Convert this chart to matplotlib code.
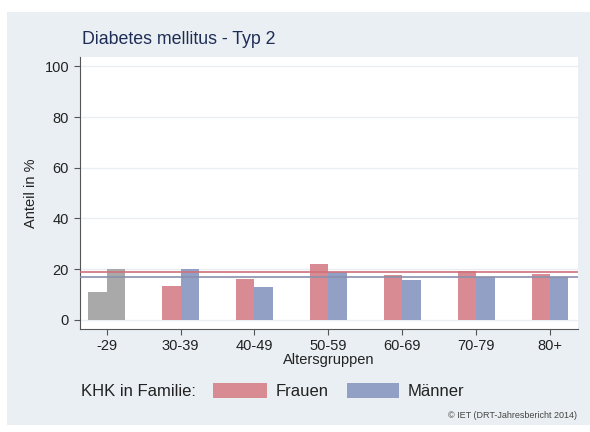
import numpy as np
import matplotlib.pyplot as plt
from matplotlib.patches import Rectangle

plt.rcParams['font.family'] = ['Liberation Sans', 'DejaVu Sans']

gruppen = ["-29", "30-39", "40-49", "50-59", "60-69", "70-79", "80+"]
frauen = [11.0, 13.4, 16.2, 22.1, 17.8, 19.3, 18.2]
maenner = [20.0, 20.0, 12.8, 18.9, 15.9, 16.8, 17.0]
mittel_frauen = 19.0
mittel_maenner = 17.0

rot = "#d98b93"
blau = "#93a0c5"
grau = "#a9a9a9"

fig = plt.figure(figsize=(5.9, 4.32), dpi=100)
fig.patches.append(Rectangle((7 / 590, 7 / 432), 1, 413 / 432, transform=fig.transFigure,
                             facecolor="#e9eff2", edgecolor="none", zorder=-10))

ax = fig.add_axes([79.5 / 590, 1 - 329 / 432, (578 - 79.5) / 590, (329 - 57) / 432])
x = np.arange(len(gruppen))
w = 0.25
farben_f = [grau] + [rot] * (len(gruppen) - 1)
farben_m = [grau] + [blau] * (len(gruppen) - 1)
ax.bar(x - w / 2, frauen, w, color=farben_f, zorder=3)
ax.bar(x + w / 2, maenner, w, color=farben_m, zorder=3)
ax.axhline(mittel_frauen, color="#d0707b", lw=1.2, zorder=4)
ax.axhline(mittel_maenner, color="#8890ad", lw=1.2, zorder=4)

ax.set_xlim(-0.368, 6.379)
ax.set_ylim(-3.6, 103.7)
ax.set_yticks([0, 20, 40, 60, 80, 100])
ax.set_xticks(x)
ax.set_xticklabels(gruppen)
ax.grid(axis="y", color="#eaeef0", lw=1, zorder=0)
for s in ["top", "right"]:
    ax.spines[s].set_visible(False)
for s in ["left", "bottom"]:
    ax.spines[s].set_color("#555555")
ax.tick_params(colors="#555555", labelcolor="#222222", labelsize=10.5, length=4)
ax.set_xlabel("Altersgruppen", fontsize=10.5, color="#222222", labelpad=0)
ax.set_ylabel("Anteil in %", fontsize=10.5, color="#222222", labelpad=5)

fig.text(82 / 590, 1 - 40 / 432, "Diabetes mellitus - Typ 2", fontsize=12.8,
         color="#1e2d55", va="center")

# Legende
ly = 1 - 391 / 432
fig.text(81.5 / 590, ly, "KHK in Familie:", fontsize=12, color="#222222", va="center")
fig.patches.append(Rectangle((213 / 590, 1 - 398 / 432), 54 / 590, 15 / 432,
                             transform=fig.transFigure, facecolor=rot, edgecolor="none"))
fig.text(276 / 590, ly, "Frauen", fontsize=12, color="#222222", va="center")
fig.patches.append(Rectangle((346.5 / 590, 1 - 398 / 432), 52.5 / 590, 15 / 432,
                             transform=fig.transFigure, facecolor=blau, edgecolor="none"))
fig.text(408 / 590, ly, "Männer", fontsize=12, color="#222222", va="center")

fig.text(577 / 590, 1 - 416 / 432, "© IET (DRT-Jahresbericht 2014)", fontsize=6.5,
         color="#444444", ha="right", va="center")

fig.savefig("out.png", dpi=100)
